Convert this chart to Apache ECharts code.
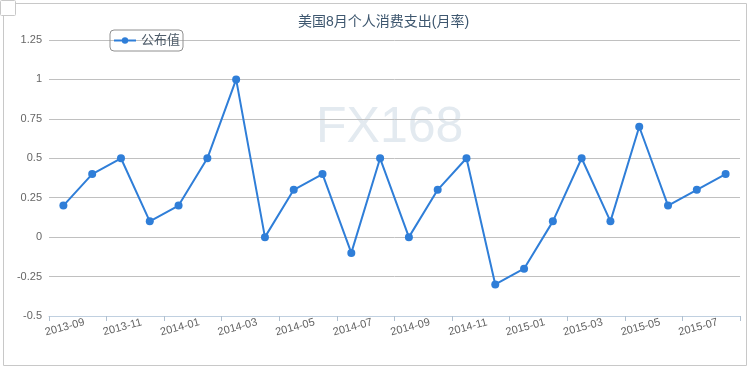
<!DOCTYPE html>
<html><head><meta charset="utf-8">
<script src="https://cdn.jsdelivr.net/npm/echarts@6/dist/echarts.min.js"></script>
<style>html,body{margin:0;padding:0;background:#fff}#c{width:750px;height:370px}</style>
</head><body><div id="c"></div>
<script>
var titleText = '美国8月个人消费支出(月率)';
var seriesName = '公布值';
var months = ['2013-09','2013-10','2013-11','2013-12','2014-01','2014-02','2014-03','2014-04','2014-05','2014-06','2014-07','2014-08','2014-09','2014-10','2014-11','2014-12','2015-01','2015-02','2015-03','2015-04','2015-05','2015-06','2015-07','2015-08'];
var values = [0.2,0.4,0.5,0.1,0.2,0.5,1.0,0,0.3,0.4,-0.1,0.5,0,0.3,0.5,-0.3,-0.2,0.1,0.5,0.1,0.7,0.2,0.3,0.4];
var yTicks = {min:-0.5, max:1.25, interval:0.25};

var chart = echarts.init(document.getElementById('c'));
chart.setOption({
  animation:false,
  title:{text:titleText,left:293,top:10,textStyle:{fontSize:14,fontWeight:'normal',color:'#3E576F',fontFamily:'Liberation Sans, Noto Sans CJK SC, sans-serif'}},
  legend:{data:[seriesName],left:110,top:30,itemWidth:22,itemHeight:8,padding:[4,3,4,3],itemGap:4,
    borderColor:'#909090',borderWidth:1,borderRadius:4,
    textStyle:{fontSize:13,color:'#4d5b69',fontFamily:'Liberation Sans, Noto Sans CJK SC, sans-serif'}},
  grid:{left:49,right:10,top:40,bottom:54},
  graphic:[
    {type:'rect',shape:{x:3.5,y:3.5,width:743,height:362},style:{fill:'none',stroke:'#c8c8c8',lineWidth:1},z:-10,silent:true},
    {type:'rect',shape:{x:0.5,y:0.5,width:15,height:15,r:1},style:{fill:'#fff',stroke:'#c8c8c8',lineWidth:1},z:10,silent:true},
    {type:'text',left:316,top:103,style:{text:'FX168',fontSize:50,fill:'#e3eaf0',fontFamily:'Liberation Sans, Arial, sans-serif'},z:-5,silent:true}
  ],
  xAxis:{type:'category',data:months,boundaryGap:true,
    axisLine:{onZero:false,lineStyle:{color:'#c0d0e0',width:1}},
    axisTick:{show:true,interval:1,length:5,lineStyle:{color:'#b0c0d0'}},
    axisLabel:{interval:1,rotate:15,align:'center',verticalAlign:'top',margin:6,color:'#606060',fontSize:11,fontFamily:'Liberation Sans, Arial, sans-serif'},
    splitLine:{show:false}},
  yAxis:{type:'value',min:yTicks.min,max:yTicks.max,interval:yTicks.interval,
    axisLine:{show:false},axisTick:{show:false},
    axisLabel:{margin:7,color:'#666',fontSize:11,fontFamily:'Liberation Sans, Arial, sans-serif'},
    splitLine:{lineStyle:{color:'#c0c0c0',width:1}}},
  series:[{name:seriesName,type:'line',data:values,symbol:'circle',symbolSize:8,
    lineStyle:{color:'#2f7ed8',width:2},itemStyle:{color:'#2f7ed8'}}]
});
</script></body></html>
